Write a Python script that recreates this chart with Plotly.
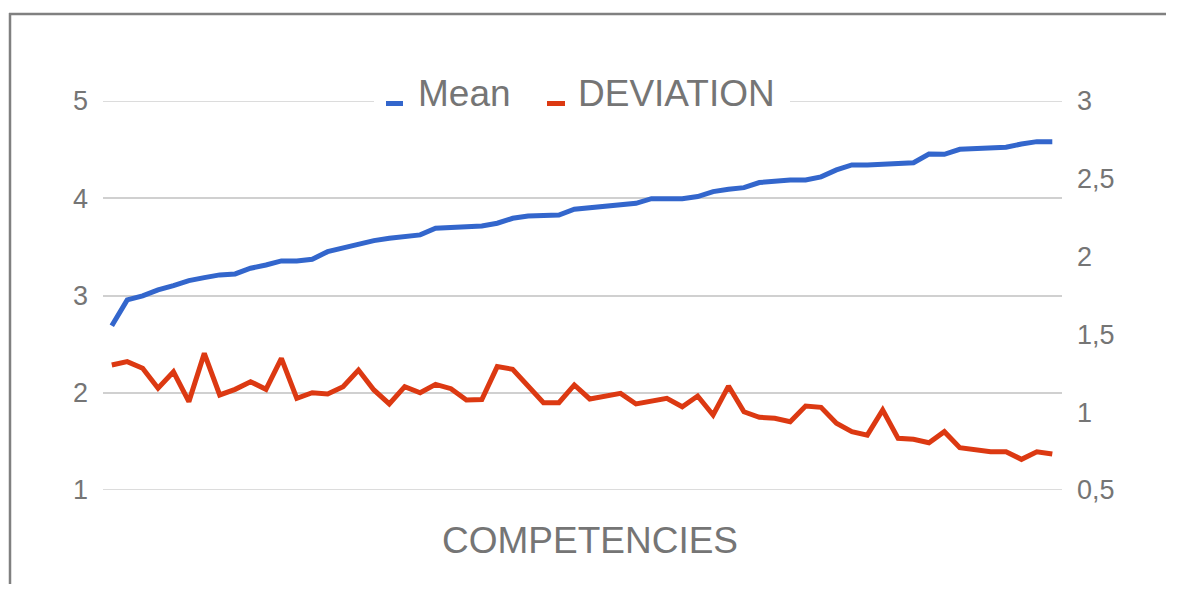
import plotly.graph_objects as go

competencies = list(range(1, 63))

mean_values = [2.688, 2.955, 2.996, 3.058, 3.102, 3.153, 3.184, 3.212, 3.222, 3.280,
               3.314, 3.356, 3.356, 3.373, 3.451, 3.490, 3.520, 3.564, 3.589, 3.605,
               3.623, 3.691, 3.698, 3.708, 3.715, 3.743, 3.794, 3.818, 3.825, 3.828,
               3.887, 3.905, 3.921, 3.938, 3.948, 3.996, 4.000, 3.996, 4.017, 4.068,
               4.092, 4.109, 4.161, 4.178, 4.188, 4.188, 4.220, 4.291, 4.342, 4.342,
               4.352, 4.359, 4.366, 4.455, 4.452, 4.503, 4.513, 4.513, 4.524, 4.558,
               4.582, 4.582]

deviation_values = [1.303, 1.325, 1.282, 1.154, 1.260, 1.068, 1.378, 1.111, 1.147, 1.196,
                    1.147, 1.346, 1.089, 1.125, 1.117, 1.164, 1.271, 1.143, 1.053, 1.164,
                    1.125, 1.179, 1.151, 1.078, 1.082, 1.293, 1.276, 1.164, 1.061, 1.061,
                    1.175, 1.085, 1.104, 1.121, 1.053, 1.072, 1.089, 1.035, 1.104, 0.982,
                    1.168, 1.003, 0.967, 0.961, 0.939, 1.040, 1.031, 0.929, 0.875, 0.853,
                    1.014, 0.832, 0.826, 0.804, 0.875, 0.772, 0.762, 0.746, 0.746, 0.697,
                    0.746, 0.731]

series_names = ["Mean", "DEVIATION"]
series_colors = ["#3366cc", "#dc3912"]
left_ticks = [1, 2, 3, 4, 5]
right_ticks = [0.5, 1, 1.5, 2, 2.5, 3]
x_title = "COMPETENCIES"

GRAY = "#757575"
GRID = "#d0d0d0"
FONT = "Liberation Sans, Arial, sans-serif"

# page body has an 8px margin, so the figure is shifted by 8px;
# keep figure + margins inside the window to avoid scrollbars
W, H = 1162, 576
PLOT_L, PLOT_R, PLOT_T, PLOT_B = 103, 1062, 101, 490  # in screenshot pixels
OFF = 8
L = PLOT_L - OFF
T = PLOT_T - OFF
pw = PLOT_R - PLOT_L
ph = PLOT_B - PLOT_T
R = W - L - pw
B = H - T - ph


def px_x(p):
    return (p - PLOT_L) / pw


def px_y(p):
    return (PLOT_B - p) / ph


fig = go.Figure()
fig.add_trace(go.Scatter(x=competencies, y=mean_values, name=series_names[0], mode="lines",
                         line=dict(color=series_colors[0], width=5), yaxis="y",
                         showlegend=False))
fig.add_trace(go.Scatter(x=competencies, y=deviation_values, name=series_names[1], mode="lines",
                         line=dict(color=series_colors[1], width=5), yaxis="y2",
                         showlegend=False))

shapes = []
# edge gridlines (plotly drops gridlines lying on the plot edges)
for v in (left_ticks[0], left_ticks[-1]):
    shapes.append(dict(type="line", xref="paper", yref="y", x0=0, x1=1, y0=v, y1=v,
                       line=dict(color=GRID, width=1.5), layer="below"))
# legend background (hides gridline behind legend)
shapes.append(dict(type="rect", xref="paper", yref="paper",
                   x0=px_x(374), x1=px_x(790), y0=px_y(115), y1=px_y(78),
                   fillcolor="white", line=dict(width=0), layer="above"))
# legend swatches
for x0, x1, c in ((386, 403, series_colors[0]), (547, 565, series_colors[1])):
    shapes.append(dict(type="rect", xref="paper", yref="paper",
                       x0=px_x(x0), x1=px_x(x1), y0=px_y(106), y1=px_y(101),
                       fillcolor=c, line=dict(width=0), layer="above"))
# outer frame (left and top edges)
frame_line = dict(color="#808080", width=2.5)
shapes.append(dict(type="line", xref="paper", yref="paper",
                   x0=px_x(10), x1=px_x(10), y0=px_y(584), y1=px_y(13), line=frame_line,
                   layer="above"))
shapes.append(dict(type="line", xref="paper", yref="paper",
                   x0=px_x(9), x1=px_x(1166), y0=px_y(14), y1=px_y(14), line=frame_line,
                   layer="above"))

annotations = [
    dict(text=series_names[0], xref="paper", yref="paper", x=px_x(416), y=px_y(94),
         xanchor="left", yanchor="middle", showarrow=False,
         font=dict(size=37, color=GRAY, family=FONT)),
    dict(text=series_names[1], xref="paper", yref="paper", x=px_x(576), y=px_y(94),
         xanchor="left", yanchor="middle", showarrow=False,
         font=dict(size=37, color=GRAY, family=FONT)),
    dict(text=x_title, xref="paper", yref="paper", x=px_x(590), y=px_y(540),
         xanchor="center", yanchor="middle", showarrow=False,
         font=dict(size=37, color=GRAY, family=FONT)),
]

fig.update_layout(
    width=W, height=H,
    margin=dict(l=L, r=R, t=T, b=B),
    paper_bgcolor="white", plot_bgcolor="white",
    separators=",.",
    font=dict(family=FONT, color=GRAY),
    showlegend=False,
    xaxis=dict(range=[0.43, 62.63], showgrid=False, zeroline=False, showticklabels=False,
               ticks="", showline=False),
    yaxis=dict(range=[1, 5], tickvals=left_ticks, showgrid=True, gridcolor=GRID,
               gridwidth=1.5, zeroline=False, showline=False, ticks="",
               tickfont=dict(size=27, color=GRAY, family=FONT), ticklabelstandoff=14),
    yaxis2=dict(range=[0.5, 3], tickvals=right_ticks, overlaying="y", side="right",
                showgrid=False, zeroline=False, showline=False, ticks="",
                tickfont=dict(size=27, color=GRAY, family=FONT), ticklabelstandoff=14),
    shapes=shapes,
    annotations=annotations,
)

fig.write_html("out.html")
